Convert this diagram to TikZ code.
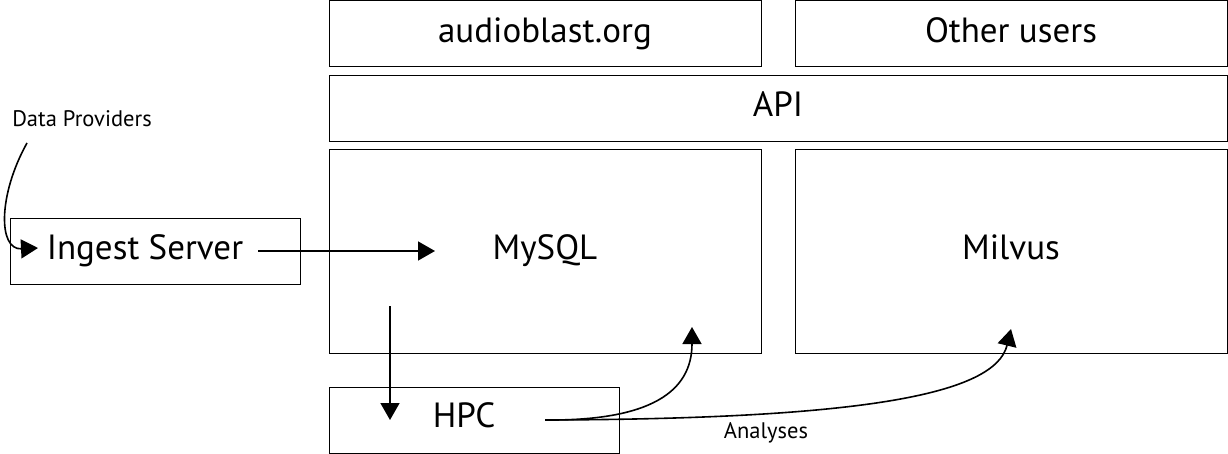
\documentclass[tikz,border=0pt]{standalone}
\usepackage{fontspec}
\setmainfont{PT Sans}
\usetikzlibrary{arrows.meta}
\begin{document}
\begin{tikzpicture}[x=1pt,y=-1pt,
  box/.style={draw, line width=1pt, inner sep=0pt, outer sep=0pt},
  big/.style={font=\fontsize{35}{42}\selectfont, anchor=base, inner sep=0pt},
  small/.style={font=\fontsize{22.5}{27}\selectfont, anchor=base, inner sep=0pt},
  conn/.style={line width=1.6pt, -{Triangle[length=17pt,width=19pt]}}]
\useasboundingbox (0,0) rectangle (1228,454);
% boxes
\node[box, minimum width=432pt, minimum height=66pt] (webbox) at (545,33.5) {};
\node[box, minimum width=432pt, minimum height=66pt] (otherbox) at (1011,33.5) {};
\node[box, minimum width=898pt, minimum height=66pt] (apibox) at (778,108.5) {};
\node[box, minimum width=432pt, minimum height=203pt] (mysqlbox) at (545,251.5) {};
\node[box, minimum width=432pt, minimum height=203pt] (milvusbox) at (1011,251.5) {};
\node[box, minimum width=290pt, minimum height=66pt] (ingestbox) at (155,251.5) {};
\node[box, minimum width=290pt, minimum height=66pt] (hpcbox) at (474,420) {};
% texts
\node[big] (web) at (545,43) {audioblast.org};
\node[big] (other) at (1011,43) {Other users};
\node[big] (api) at (778,117) {API};
\node[big] (mysql) at (545,259) {MySQL};
\node[big] (milvus) at (1011,259) {Milvus};
\node[big] (ingest) at (145,259) {Ingest Server};
\node[big] (hpc) at (464,427) {HPC};
\node[small] (dp) at (82,127) {Data Providers};
\node[small] (analyses) at (766,438) {Analyses};
% connector points
\coordinate (dpout) at (27,143);
\coordinate (ingin) at (38,248);
\coordinate (ingout) at (258,251);
\coordinate (myin) at (435,251);
\coordinate (myout) at (390,306);
\coordinate (hpcin) at (390,420);
\coordinate (hpcout) at (545,420);
\coordinate (myin2) at (692,327);
\coordinate (milin) at (1011,329);
% connectors
\draw[conn] (dpout) .. controls (-2,195) and (-2,250) .. (ingin);
\draw[conn] (ingout) -- (myin);
\draw[conn] (myout) -- (hpcin);
\draw[conn] (hpcout) .. controls (650,421) and (692,392) .. (myin2);
\draw[conn] (hpcout) .. controls (860,419) and (995,395) .. (milin);
\end{tikzpicture}
\end{document}
